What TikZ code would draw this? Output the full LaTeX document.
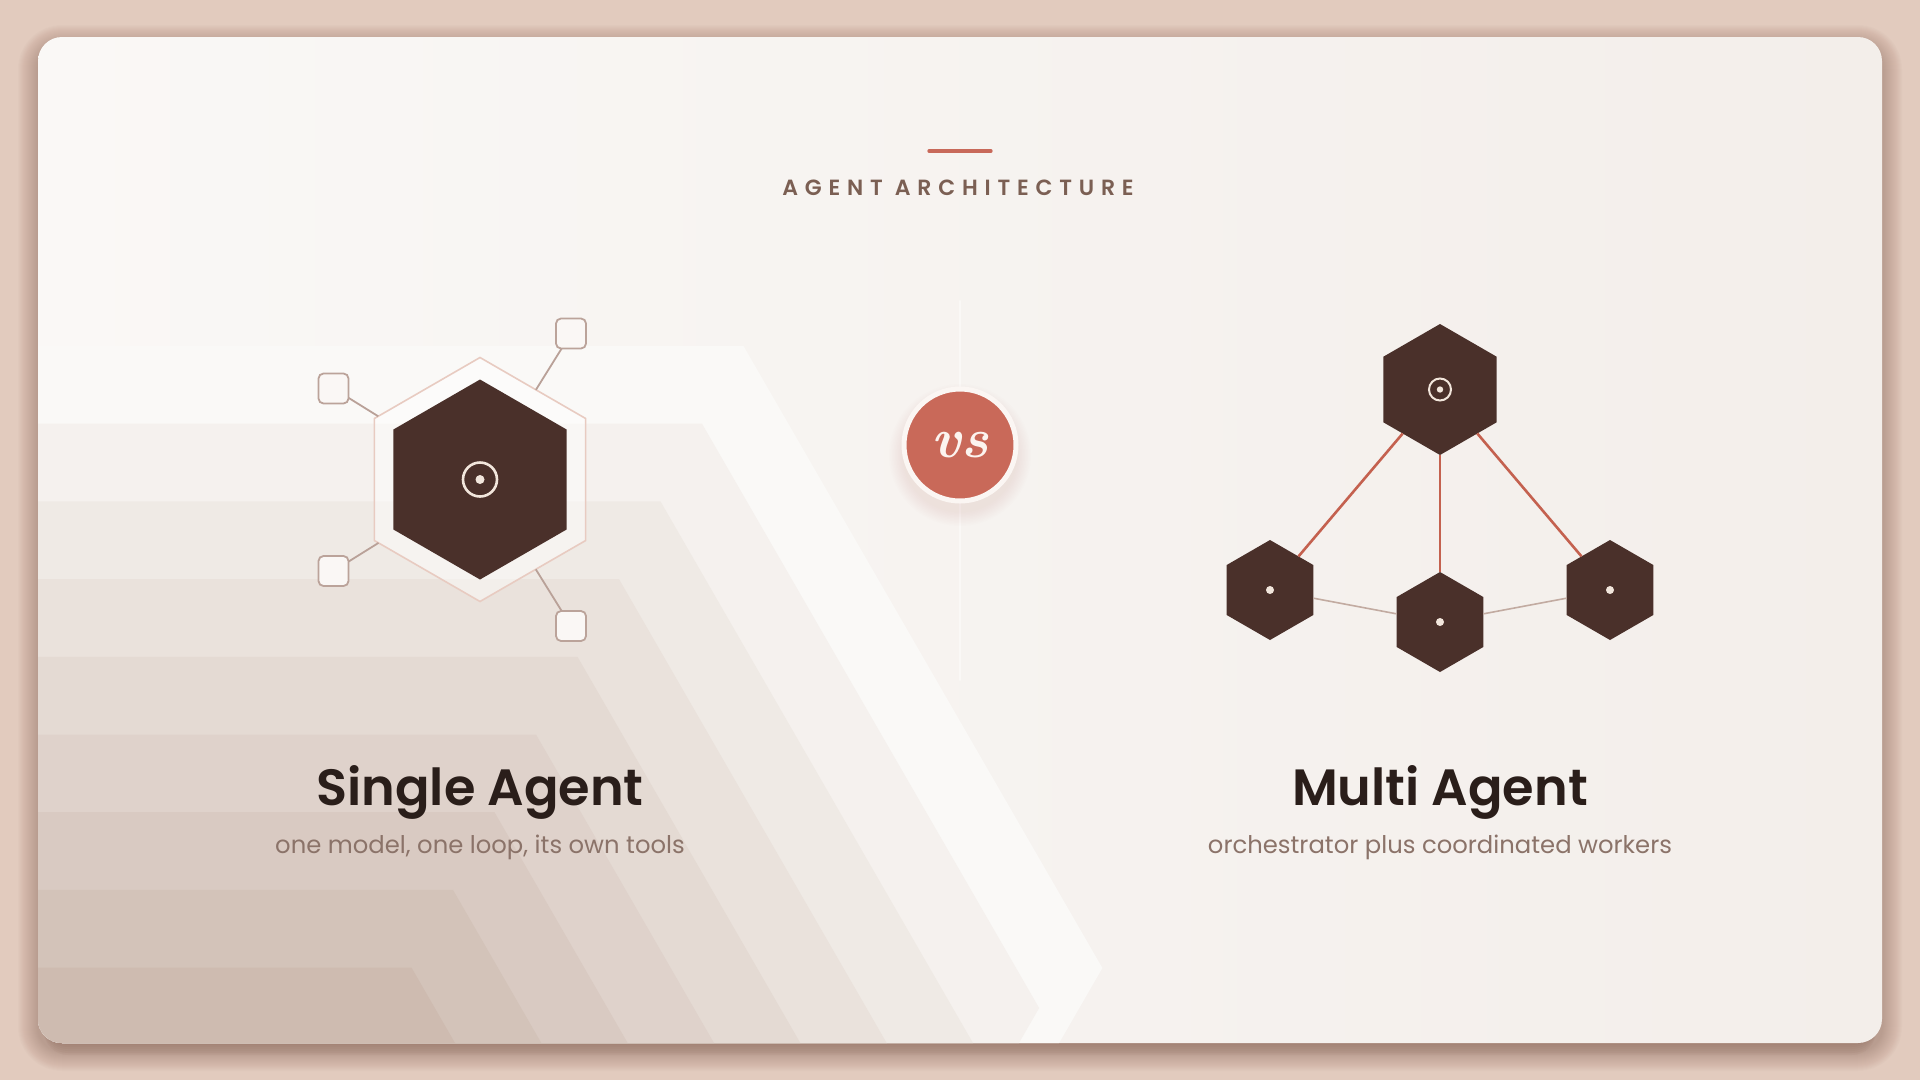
\documentclass[tikz,border=0pt]{standalone}
\usepackage{fontspec}
\newfontfamily\headfont{Poppins SemiBold}
\newfontfamily\capsfont{Poppins SemiBold}[LetterSpace=31]
\newfontfamily\subfont{Poppins}
\usetikzlibrary{shapes.geometric}
\definecolor{bgout}{HTML}{E2CBBE}
\definecolor{shadowc}{HTML}{7A5446}
\definecolor{cardL}{HTML}{FAF8F6}
\definecolor{cardR}{HTML}{F3EEEA}
\definecolor{stripeLight}{HTML}{FAF9F7}
\definecolor{stripeDark}{HTML}{CEBBB0}
\definecolor{vlinec}{HTML}{DCC9C0}
\definecolor{accent}{HTML}{C8695A}
\definecolor{headc}{HTML}{7B5F53}
\definecolor{titlec}{HTML}{2A1E1A}
\definecolor{subc}{HTML}{8B7369}
\definecolor{hexc}{HTML}{4A302A}
\definecolor{ringc}{HTML}{E8CBC1}
\definecolor{iconc}{HTML}{F2E6DC}
\definecolor{sqstroke}{HTML}{BBA39A}
\definecolor{sqfill}{HTML}{FAF7F5}
\definecolor{toolline}{HTML}{B9A198}
\definecolor{redline}{HTML}{C4614F}
\definecolor{grayline}{HTML}{C2ABA1}
\definecolor{vsred}{HTML}{C96959}
\definecolor{vsring}{HTML}{FBF6F3}
\definecolor{vstext}{HTML}{FCF4EF}
\definecolor{glowc}{HTML}{D98E7E}
\begin{document}
\begin{tikzpicture}[x=1pt,y=-1pt,
  hexnode/.style={regular polygon, regular polygon sides=6, shape border rotate=30,
    inner sep=0pt, outer sep=0pt, fill=hexc, minimum size=#1},
  ringnode/.style={regular polygon, regular polygon sides=6, shape border rotate=30,
    inner sep=0pt, outer sep=0pt, draw=ringc, line width=1.6pt, fill=white, fill opacity=0.45,
    minimum size=#1},
  toolbox/.style={rectangle, rounded corners=5pt, minimum size=30pt, inner sep=0pt, outer sep=0pt,
    draw=sqstroke, line width=1.8pt, fill=sqfill},
  toolconn/.style={draw=toolline, line width=1.8pt},
  orchconn/.style={draw=redline, line width=2.6pt},
  peerconn/.style={draw=grayline, line width=1.6pt},
  titletext/.style={anchor=base, text=titlec, font={\headfont\fontsize{51}{60}\selectfont}},
  subtext/.style={anchor=base, text=subc, font={\subfont\fontsize{24.3}{30}\selectfont}},
]
\useasboundingbox (0,0) rectangle (1920,1080);
\fill[bgout] (0,0) rectangle (1920,1080);
% card shadow
\foreach \i in {1,...,20} {
  \pgfmathsetmacro\rr{24+\i}
  \fill[shadowc, opacity=0.02, rounded corners=\rr pt] (38-\i, 45-\i) rectangle (1882+\i, 1051+\i);
}
\foreach \j in {1,...,6} {
  \fill[shadowc, opacity=0.06, rounded corners=24pt] (44, 1000) rectangle (1876, 1043+2*\j);
}
% card
\shade[left color=cardL, right color=cardR, rounded corners=24pt] (38,37) rectangle (1882,1043);
% chevron stripes
\begin{scope}
  \clip[rounded corners=24pt] (38,37) rectangle (1882,1043);
  \foreach \k in {0,...,8} {
    \pgfmathsetmacro\yk{346+77.7*\k}
    \pgfmathsetmacro\ck{743.5-41.5*\k}
    \pgfmathsetmacro\vy{968+40*\k}
    \pgfmathsetmacro\vx{\ck+0.577*(\vy-\yk)}
    \pgfmathsetmacro\bx{\vx-0.577*(1100-\vy)}
    \pgfmathsetmacro\pc{12.5*\k}
    \fill[stripeDark!\pc!stripeLight] (0,\yk) -- (\ck,\yk) -- (\vx,\vy) -- (\bx,1100) -- (0,1100) -- cycle;
  }
\end{scope}
% vertical divider
\shade[top color=cardL, middle color=vlinec, bottom color=cardL] (959.3,300) rectangle (960.7,680);
% header
\draw[accent, line width=3.3pt, line cap=round] (929,151) -- (991,151);
\node[anchor=base, text=headc, font={\capsfont\fontsize{22}{26}\selectfont}] (header) at (958,195) {AGENT ARCHITECTURE};
% single agent
\node[ringnode=244pt] (ring) at (480,479.5) {};
\node[hexnode=200pt] (core) at (480,479.5) {};
\draw[iconc, line width=2.6pt] (core.center) circle (17);
\fill[iconc] (core.center) circle (4.5);
\node[toolbox] (toolA) at (571,333.5) {};
\node[toolbox] (toolB) at (333.5,388.5) {};
\node[toolbox] (toolC) at (333.5,571) {};
\node[toolbox] (toolD) at (571,626) {};
\draw[toolconn] (toolA) -- (ring);
\draw[toolconn] (toolB) -- (ring);
\draw[toolconn] (toolC) -- (ring);
\draw[toolconn] (toolD) -- (ring);
% vs badge
\foreach \i in {1,...,10} {
  \fill[glowc, opacity=0.012] (960,455) circle (56+1.5*\i);
}
\node[circle, minimum size=112pt, inner sep=0pt, fill=vsred, draw=vsring, line width=5pt,
  text=vstext, font={\rmfamily\bfseries\itshape\fontsize{56}{56}\selectfont}] (vs) at (960,445) {vs};
% multi agent
\node[hexnode=131pt] (orch) at (1440,389.5) {};
\node[hexnode=100pt] (wL) at (1270,590) {};
\node[hexnode=100pt] (wM) at (1440,622) {};
\node[hexnode=100pt] (wR) at (1610,590) {};
\draw[orchconn] (orch) -- (wL);
\draw[orchconn] (orch) -- (wM);
\draw[orchconn] (orch) -- (wR);
\draw[peerconn] (wL) -- (wM);
\draw[peerconn] (wM) -- (wR);
\draw[iconc, line width=2pt] (orch.center) circle (11);
\fill[iconc] (orch.center) circle (3.2);
\fill[iconc] (wL.center) circle (4);
\fill[iconc] (wM.center) circle (4);
\fill[iconc] (wR.center) circle (4);
% texts
\node[titletext] (singleT) at (480,805) {Single Agent};
\node[subtext] (singleS) at (480,853) {one model, one loop, its own tools};
\node[titletext] (multiT) at (1440,805) {Multi Agent};
\node[subtext] (multiS) at (1440,853) {orchestrator plus coordinated workers};
\end{tikzpicture}
\end{document}
